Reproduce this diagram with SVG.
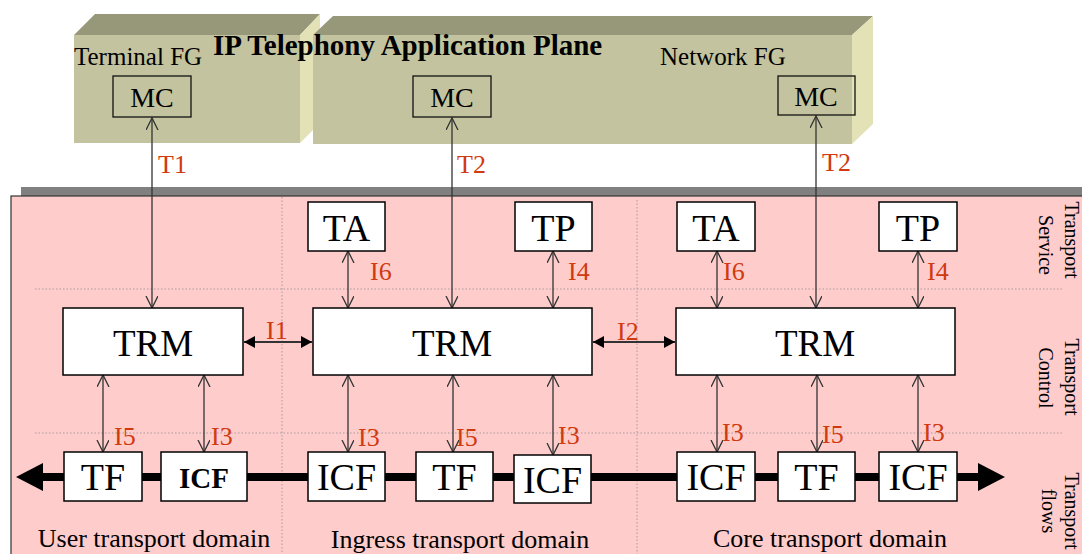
<svg xmlns="http://www.w3.org/2000/svg" width="1082" height="554" viewBox="0 0 1082 554">
<style>
text{font-family:"Liberation Serif","Times New Roman",serif;fill:#000}
.front{fill:#C3C49F}
.top{fill:#97977A}
.side{fill:#E2E2B6}
.box{fill:#fff;stroke:#000;stroke-width:1.5}
.mc{fill:none;stroke:#111;stroke-width:1.3}
.big{font-size:38px;text-anchor:middle}
.trm{font-size:37px;text-anchor:middle}
.mct{font-size:28px;text-anchor:middle}
.lbl{font-size:26px;fill:#CF3A0F}
.fg{font-size:25px}
.dom{font-size:26px;text-anchor:middle}
.side-t{font-size:20px;text-anchor:middle}
.dot{stroke:#A89A9A;stroke-width:1;stroke-dasharray:1.5,2;fill:none}
.c{stroke:#333;stroke-width:1.3;fill:none;marker-start:url(#open);marker-end:url(#open)}
.cf{stroke:#333;stroke-width:2;fill:none;marker-start:url(#fill);marker-end:url(#fill)}
</style>
<defs>
<marker id="open" markerUnits="userSpaceOnUse" viewBox="0 0 14 14" refX="12" refY="6" markerWidth="14" markerHeight="14" orient="auto-start-reverse">
<path d="M0,0 L12,6 L0,12" fill="none" stroke="#333" stroke-width="1.3"/>
</marker>
<marker id="fill" markerUnits="userSpaceOnUse" viewBox="0 0 12 12" refX="11" refY="6" markerWidth="12" markerHeight="12" orient="auto-start-reverse">
<path d="M0,0 L11,6 L0,12 z" fill="#000"/>
</marker>
</defs>

<g id="app-plane">
<g id="terminal-fg">
<polygon class="top" points="74,35 95,14 320,14 300,35"/>
<polygon class="side" points="300,35 320,14 320,123 300,143"/>
<rect class="front" x="74" y="35" width="226" height="108"/>
</g>
<g id="network-fg">
<polygon class="top" points="313,35 333,16 873,16 852,35"/>
<polygon class="side" points="852,35 873,16 873,124 852,144"/>
<rect class="front" x="313" y="35" width="539" height="109"/>
</g>
<text x="74" y="65" class="fg">Terminal FG</text>
<text x="660" y="65" class="fg">Network FG</text>
<text x="213" y="55" style="font-size:29px;font-weight:bold">IP Telephony Application Plane</text>
</g>

<g id="transport-plane">
<rect x="21" y="187" width="1070" height="10" fill="#808080"/>
<rect x="11" y="196" width="1080" height="370" fill="#FFCCCC" stroke="#333" stroke-width="1.2"/>
<line class="dot" x1="282" y1="197" x2="282" y2="554"/>
<line class="dot" x1="637" y1="200" x2="637" y2="554"/>
<line class="dot" x1="35" y1="289" x2="1062" y2="289"/>
<line class="dot" x1="35" y1="433" x2="1062" y2="433"/>
<g id="layer-labels">
<text class="side-t" transform="translate(1065,240) rotate(90)">Transport</text>
<text class="side-t" transform="translate(1039,245) rotate(90)">Service</text>
<text class="side-t" transform="translate(1065,377) rotate(90)">Transport</text>
<text class="side-t" transform="translate(1039,378) rotate(90)">Control</text>
<text class="side-t" transform="translate(1065,511) rotate(90)">Transport</text>
<text class="side-t" transform="translate(1042,511) rotate(90)">flows</text>
</g>
<text x="154" y="547" class="dom">User transport domain</text>
<text x="460" y="548" class="dom">Ingress transport domain</text>
<text x="830" y="547" class="dom">Core transport domain</text>
</g>

<g id="connectors">
<line class="c" x1="152" y1="118" x2="152" y2="308"/>
<line class="c" x1="452" y1="118" x2="452" y2="308"/>
<line class="c" x1="816" y1="116" x2="816" y2="308"/>
<line class="c" x1="348" y1="251" x2="348" y2="308"/>
<line class="c" x1="553" y1="251" x2="553" y2="308"/>
<line class="c" x1="717" y1="251" x2="717" y2="308"/>
<line class="c" x1="918" y1="251" x2="918" y2="308"/>
<line class="cf" x1="244" y1="342" x2="312" y2="342"/>
<line class="cf" x1="593" y1="342" x2="675" y2="342"/>
<line class="c" x1="103" y1="375" x2="103" y2="452"/>
<line class="c" x1="204" y1="375" x2="204" y2="452"/>
<line class="c" x1="348" y1="375" x2="348" y2="452"/>
<line class="c" x1="453" y1="375" x2="453" y2="452"/>
<line class="c" x1="553" y1="375" x2="553" y2="455"/>
<line class="c" x1="717" y1="375" x2="717" y2="452"/>
<line class="c" x1="817" y1="375" x2="817" y2="452"/>
<line class="c" x1="918" y1="375" x2="918" y2="452"/>
<line x1="42" y1="477" x2="979" y2="477" stroke="#000" stroke-width="8"/>
<polygon points="16,477 43,463 43,491" fill="#000"/>
<polygon points="1005,477 978,463 978,491" fill="#000"/>
<g id="labels">
<text class="lbl" x="158" y="173">T1</text>
<text class="lbl" x="457" y="173">T2</text>
<text class="lbl" x="822" y="171">T2</text>
<text class="lbl" x="370" y="280">I6</text>
<text class="lbl" x="568" y="280">I4</text>
<text class="lbl" x="723" y="280">I6</text>
<text class="lbl" x="927" y="280">I4</text>
<text class="lbl" x="266" y="339">I1</text>
<text class="lbl" x="617" y="340">I2</text>
<text class="lbl" x="114" y="445">I5</text>
<text class="lbl" x="211" y="445">I3</text>
<text class="lbl" x="358" y="446">I3</text>
<text class="lbl" x="456" y="446">I5</text>
<text class="lbl" x="558" y="444">I3</text>
<text class="lbl" x="722" y="441">I3</text>
<text class="lbl" x="822" y="443">I5</text>
<text class="lbl" x="923" y="441">I3</text>
</g>
</g>

<g id="mc-terminal"><rect class="mc" x="113" y="76" width="78" height="41"/><text class="mct" x="152" y="107">MC</text></g>
<g id="mc-app"><rect class="mc" x="413" y="76" width="78" height="41"/><text class="mct" x="452" y="107">MC</text></g>
<g id="mc-network"><rect class="mc" x="778" y="76" width="77" height="39"/><text class="mct" x="816" y="106">MC</text></g>

<g id="ta-ingress"><rect class="box" x="308" y="202" width="77" height="49"/><text class="big" x="346.5" y="241">TA</text></g>
<g id="tp-ingress"><rect class="box" x="515" y="202" width="77" height="49"/><text class="big" x="553.5" y="241">TP</text></g>
<g id="ta-core"><rect class="box" x="677" y="202" width="78" height="49"/><text class="big" x="716" y="241">TA</text></g>
<g id="tp-core"><rect class="box" x="879" y="202" width="78" height="49"/><text class="big" x="918" y="241">TP</text></g>

<g id="trm-user"><rect class="box" x="63" y="308" width="180" height="67"/><text class="trm" x="153" y="356">TRM</text></g>
<g id="trm-ingress"><rect class="box" x="313" y="308" width="279" height="67"/><text class="trm" x="452" y="356">TRM</text></g>
<g id="trm-core"><rect class="box" x="676" y="308" width="279" height="67"/><text class="trm" x="815" y="356">TRM</text></g>

<g id="tf-user"><rect class="box" x="64" y="452" width="78" height="49"/><text class="big" x="103" y="490">TF</text></g>
<g id="icf-user"><rect class="box" x="161" y="452" width="86" height="49"/><text x="204" y="488" style="font-size:29px;font-weight:bold;text-anchor:middle">ICF</text></g>
<g id="icf-ingress-1"><rect class="box" x="308" y="452" width="77" height="49"/><text class="big" x="346.5" y="490">ICF</text></g>
<g id="tf-ingress"><rect class="box" x="416" y="452" width="77" height="49"/><text class="big" x="454.5" y="490">TF</text></g>
<g id="icf-ingress-2"><rect class="box" x="514" y="455" width="77" height="48"/><text class="big" x="552.5" y="493">ICF</text></g>
<g id="icf-core-1"><rect class="box" x="677" y="452" width="78" height="49"/><text class="big" x="716" y="490">ICF</text></g>
<g id="tf-core"><rect class="box" x="778" y="452" width="77" height="49"/><text class="big" x="816.5" y="490">TF</text></g>
<g id="icf-core-2"><rect class="box" x="879" y="452" width="78" height="49"/><text class="big" x="918" y="490">ICF</text></g>
</svg>
